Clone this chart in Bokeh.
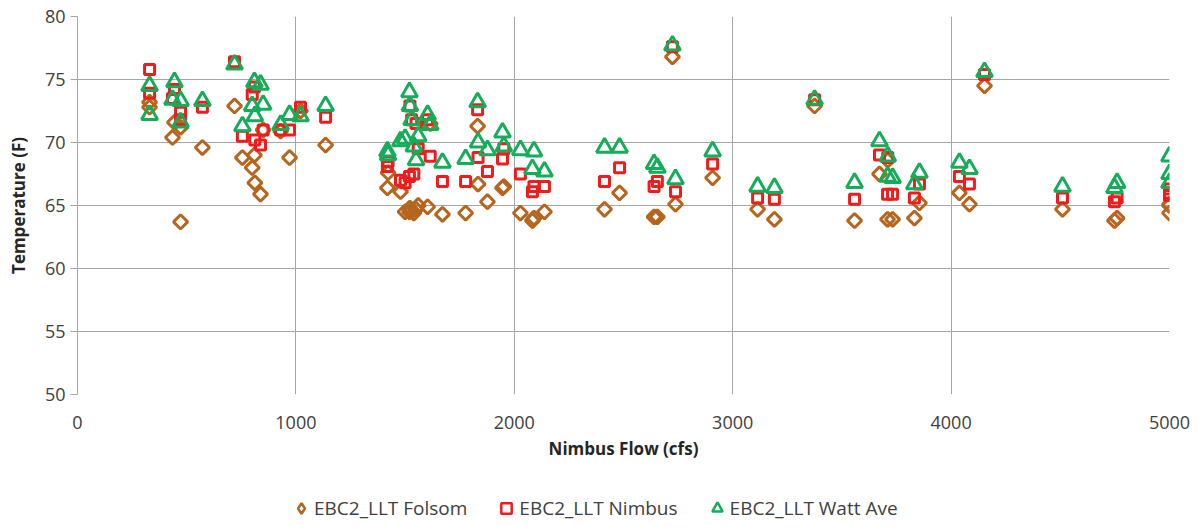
import math
from bokeh.plotting import figure
from bokeh.layouts import column
from bokeh.models import ColumnDataSource, Legend, LegendItem, FixedTicker, Range1d
from bokeh.embed import file_html
from bokeh.resources import INLINE

# Nimbus flow (cfs) for each sampled day
flow = [330, 330, 444, 435, 472, 472, 572, 719, 755, 810, 800, 812, 838, 850,
        930, 971, 1021, 1136,
        1419, 1422, 1479, 1500, 1520, 1522, 1530, 1540, 1550, 1560, 1603, 1615, 1671,
        1777, 1832, 1834, 1877, 1946, 1952, 2028, 2083, 2090, 2138,
        2413, 2482, 2640, 2655, 2724, 2738, 2908, 3114, 3191, 3375, 3558,
        3672, 3710, 3709, 3732, 3832, 3855, 4038, 4084, 4153, 4510, 4748, 4760,
        5000, 5000, 5000]

folsom = [73.2, 72.8, 71.6, 70.4, 71.2, 63.7, 69.6, 72.9, 68.8, 69.0, 68.0, 66.8, 65.9, 71.0,
          70.9, 68.8, 72.5, 69.8,
          66.4, 67.6, 66.1, 64.5, 64.5, 64.8, 64.6, 64.4, 64.7, 65.0, 64.9, 71.5, 64.3,
          64.4, 71.3, 66.7, 65.3, 66.4, 66.5, 64.4, 63.8, 64.0, 64.5,
          64.7, 66.0, 64.1, 64.1, 76.8, 65.1, 67.2, 64.7, 63.9, 72.9, 63.8,
          67.5, 68.6, 63.9, 63.9, 64.0, 65.2, 66.0, 65.1, 74.5, 64.7, 63.8, 64.0,
          65.1, 64.4, 65.0]

nimbus = [75.8, 73.9, 74.2, 73.5, 72.4, 71.8, 72.8, 76.4, 70.5, 74.4, 73.8, 70.2, 69.8, 71.0,
          71.0, 71.0, 72.8, 72.0,
          68.1, 68.5, 67.0, 66.8, 67.3, 72.9, 71.8, 67.5, 71.5, 69.5, 71.8, 68.9, 66.9,
          66.9, 72.6, 68.8, 67.7, 68.7, 69.5, 67.5, 66.1, 66.5, 66.5,
          66.9, 68.0, 66.5, 66.9, 77.6, 66.1, 68.3, 65.6, 65.5, 73.4, 65.5,
          69.0, 68.8, 65.9, 65.9, 65.6, 66.7, 67.3, 66.7, 75.4, 65.6, 65.3, 65.6,
          66.0, 65.8, 66.3]

watt = [74.5, 72.2, 74.8, 73.4, 73.3, 71.6, 73.3, 76.2, 71.3, 74.8, 72.9, 72.1, 74.6, 73.0,
        71.4, 72.2, 72.1, 72.9,
        69.3, 69.0, 70.1, 70.3, 74.0, 72.9, 71.8, 69.7, 68.6, 70.5, 72.2, 71.4, 68.4,
        68.7, 73.2, 70.0, 69.4, 70.8, 69.7, 69.4, 67.9, 69.3, 67.7,
        69.6, 69.6, 68.3, 68.0, 77.7, 67.1, 69.3, 66.5, 66.4, 73.4, 66.8,
        70.1, 68.9, 67.3, 67.2, 66.7, 67.6, 68.4, 67.9, 75.6, 66.5, 66.4, 66.8,
        68.9, 67.5, 66.8]

series_names = ["EBC2_LLT Folsom", "EBC2_LLT Nimbus", "EBC2_LLT Watt Ave"]
x_ticks = [0, 1000, 2000, 3000, 4000, 5000]
y_ticks = [50, 55, 60, 65, 70, 75, 80]

FONT = "Open Sans"
TXT = "#404040"
GRID = "#a6a6a6"
C_F, C_N, C_W = "#b5651d", "#ee1c1c", "#16ad5a"

p = figure(width=1190, height=472, x_range=Range1d(0, 5000), y_range=Range1d(50, 80),
           output_backend="svg", toolbar_location=None,
           min_border_left=77, min_border_right=21, min_border_top=16, min_border_bottom=78)
p.outline_line_color = None
p.background_fill_color = "white"
p.border_fill_color = "white"

src = ColumnDataSource(dict(x=flow, f=folsom, n=nimbus, w=watt))

p.scatter("x", "f", source=src, marker="square", size=10, angle=math.pi / 4,
          line_color=C_F, line_width=3, fill_alpha=0)
p.scatter("x", "n", source=src, marker="square", size=10,
          line_color=C_N, line_width=3, fill_alpha=0)
p.scatter("x", "w", source=src, marker="triangle", size=16,
          line_color=C_W, line_width=3, fill_alpha=0)

p.xaxis.ticker = FixedTicker(ticks=x_ticks)
p.yaxis.ticker = FixedTicker(ticks=y_ticks)
p.xaxis.axis_label = "Nimbus Flow (cfs)"
p.yaxis.axis_label = "Temperature (F)"

for ax in (p.xaxis[0], p.yaxis[0]):
    ax.axis_line_color = GRID
    ax.axis_line_width = 1
    ax.minor_tick_line_color = None
    ax.major_label_text_font = FONT
    ax.major_label_text_font_size = "18px"
    ax.major_label_text_color = TXT
    ax.axis_label_text_font = FONT
    ax.axis_label_text_font_size = "17px"
    ax.axis_label_text_font_style = "bold"
    ax.axis_label_text_color = "#262626"

p.xaxis.major_tick_line_color = None
p.xaxis.axis_line_color = None
p.xaxis.major_label_standoff = 15
p.xaxis.axis_label_standoff = 5
p.yaxis.major_tick_line_color = GRID
p.yaxis.major_tick_out = 7
p.yaxis.major_tick_in = 0
p.yaxis.major_label_standoff = 5
p.yaxis.axis_label_standoff = 12

p.xgrid.grid_line_color = GRID
p.ygrid.grid_line_color = GRID
p.xgrid.grid_line_width = 1
p.ygrid.grid_line_width = 1

# Legend strip below the chart: same series, but its ranges show none of the points,
# so only the legend entries are visible.
lg = figure(width=1190, height=50, x_range=Range1d(-2, -1), y_range=Range1d(-2, -1),
            output_backend="svg", toolbar_location=None,
            x_axis_location=None, y_axis_location=None, min_border=0)
lg.outline_line_color = None
lg.xgrid.visible = False
lg.ygrid.visible = False
q_f = lg.scatter("x", "f", source=src, marker="diamond", size=10,
                 line_color=C_F, line_width=2.5, fill_alpha=0)
q_n = lg.scatter("x", "n", source=src, marker="square", size=10,
                 line_color=C_N, line_width=2.5, fill_alpha=0)
q_w = lg.scatter("x", "w", source=src, marker="triangle", size=10,
                 line_color=C_W, line_width=2.5, fill_alpha=0)

legend = Legend(items=[LegendItem(label=series_names[0], renderers=[q_f]),
                       LegendItem(label=series_names[1], renderers=[q_n]),
                       LegendItem(label=series_names[2], renderers=[q_w])],
                orientation="horizontal", location=(211, 1),
                label_text_font=FONT, label_text_font_size="19px", label_text_color=TXT,
                border_line_alpha=0, background_fill_alpha=0,
                glyph_width=26, glyph_height=26, spacing=26, label_standoff=0,
                margin=0, padding=0)
lg.add_layout(legend, "center")

layout = column(p, lg, spacing=0)
open("out.html", "w").write(file_html(layout, INLINE))
